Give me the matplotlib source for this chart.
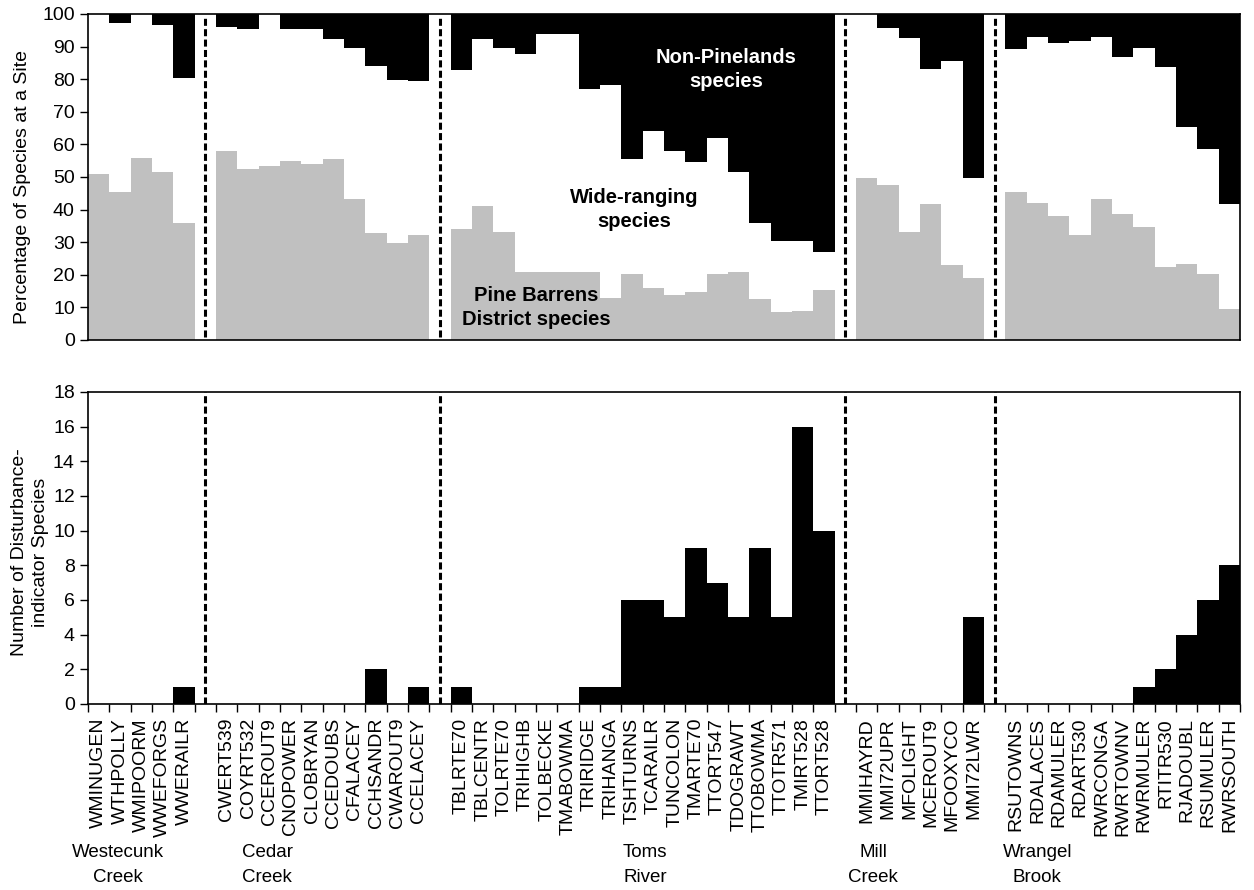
import numpy as np
import matplotlib
matplotlib.use('Agg')
import matplotlib.pyplot as plt

plt.rcParams['font.family'] = ['Liberation Sans', 'DejaVu Sans']

# ── data ───────────────────────────────────────────────────────────────────
GROUPS = ['Westecunk\nCreek', 'Cedar\nCreek', 'Toms\nRiver', 'Mill\nCreek', 'Wrangel\nBrook']

SITES = [
    ['WMINUGEN', 'WTHPOLLY', 'WMIPOORM', 'WWEFORGS', 'WWERAILR'],
    ['CWERT539', 'COYRT532', 'CCEROUT9', 'CNOPOWER', 'CLOBRYAN', 'CCEDOUBS',
     'CFALACEY', 'CCHSANDR', 'CWAROUT9', 'CCELACEY'],
    ['TBLRTE70', 'TBLCENTR', 'TOLRTE70', 'TRIHIGHB', 'TOLBECKE', 'TMABOWMA',
     'TRIRIDGE', 'TRIHANGA', 'TSHTURNS', 'TCARAILR', 'TUNCOLON', 'TMARTE70',
     'TTORT547', 'TDOGRAWT', 'TTOBOWMA', 'TTOTR571', 'TMIRT528', 'TTORT528'],
    ['MMIHAYRD', 'MMI72UPR', 'MFOLIGHT', 'MCEROUT9', 'MFOOXYCO', 'MMI72LWR'],
    ['RSUTOWNS', 'RDALACES', 'RDAMULER', 'RDART530', 'RWRCONGA', 'RWRTOWNV',
     'RWRMULER', 'RTITR530', 'RJADOUBL', 'RSUMULER', 'RWRSOUTH'],
]

# % Pine Barrens District species
PINE = [
    [51.0, 45.5, 55.9, 51.5, 35.8],
    [58.0, 52.5, 53.5, 54.9, 54.0, 55.4, 43.2, 32.7, 29.8, 32.2],
    [34.1, 41.0, 33.0, 20.8, 20.8, 20.8, 20.8, 13.0, 20.2, 15.9, 13.9, 14.6,
     20.2, 20.8, 12.6, 8.5, 8.9, 15.3],
    [49.6, 47.5, 33.2, 41.6, 22.9, 18.9],
    [45.5, 42.1, 38.1, 32.2, 43.2, 38.7, 34.7, 22.4, 23.3, 20.3, 9.5],
]

# % Non-Pinelands species
NONPINE = [
    [0.0, 2.9, 0.0, 3.4, 19.6],
    [4.1, 4.5, 0.0, 4.5, 4.5, 7.8, 10.3, 15.9, 20.3, 20.6],
    [17.3, 7.6, 10.3, 12.2, 6.0, 6.0, 23.1, 21.8, 44.5, 35.8, 42.0, 45.4,
     38.0, 48.5, 64.0, 69.5, 69.5, 73.1],
    [0.0, 4.4, 7.5, 16.8, 14.4, 50.4],
    [10.8, 7.0, 8.8, 8.4, 7.0, 13.3, 10.4, 16.4, 34.6, 41.5, 58.3],
]

# number of disturbance-indicator species
DISTURB = [
    [0, 0, 0, 0, 1],
    [0, 0, 0, 0, 0, 0, 0, 2, 0, 1],
    [1, 0, 0, 0, 0, 0, 1, 1, 6, 6, 5, 9, 7, 5, 9, 5, 16, 10],
    [0, 0, 0, 0, 0, 5],
    [0, 0, 0, 0, 0, 0, 1, 2, 4, 6, 8],
]

# x positions of the watershed captions (slot units)
GROUP_LABEL_X = [0.9, 7.9, 25.6, 36.3, 44.0]

# ── layout: one empty slot between watersheds ──────────────────────────────
x, labels, pine, nonpine, dist, gap_x = [], [], [], [], [], []
pos = 0
for gi, names in enumerate(SITES):
    for j, name in enumerate(names):
        x.append(pos)
        labels.append(name)
        pine.append(PINE[gi][j])
        nonpine.append(NONPINE[gi][j])
        dist.append(DISTURB[gi][j])
        pos += 1
    if gi < len(SITES) - 1:
        gap_x.append(pos)
        pos += 1
n_slots = pos
x = np.array(x)
pine = np.array(pine)
nonpine = np.array(nonpine)
wide = 100 - pine - nonpine
dist = np.array(dist)

GRAY = '#c0c0c0'
DASH = (0, (2.3, 1.1))
NARROW = ['Liberation Sans Narrow', 'Liberation Sans', 'DejaVu Sans']

fig = plt.figure(figsize=(12.54, 8.90), dpi=100)
ax1 = fig.add_axes([0.0702, 0.618, 0.9187, 0.3663])
ax2 = fig.add_axes([0.0702, 0.209, 0.9187, 0.3506])

# ── top: stacked percentages ───────────────────────────────────────────────
ax1.bar(x, pine, width=1.0, color=GRAY, edgecolor='none')
ax1.bar(x, wide, width=1.0, bottom=pine, color='white', edgecolor='none')
ax1.bar(x, nonpine, width=1.0, bottom=pine + wide, color='black', edgecolor='none')
for g in gap_x:
    ax1.plot([g, g], [1, 99.5], color='black', lw=2.2, ls=DASH)
ax1.set_xlim(-0.5, n_slots - 0.5)
ax1.set_ylim(0, 100)
ax1.set_yticks(np.arange(0, 101, 10))
ax1.set_xticks([])
ax1.set_ylabel('Percentage of Species at a Site', fontsize=14)
ax1.yaxis.set_label_coords(-0.0495, 0.47)

ax1.text(29.4, 83, 'Non-Pinelands\nspecies', color='white', fontsize=14.5,
         fontweight='bold', ha='center', va='center', linespacing=1.35)
ax1.text(25.1, 40, 'Wide-ranging\nspecies', color='black', fontsize=14.5,
         fontweight='bold', ha='center', va='center', linespacing=1.35)
ax1.text(20.5, 10, 'Pine Barrens\nDistrict species', color='black', fontsize=14.5,
         fontweight='bold', ha='center', va='center', linespacing=1.3)

# ── bottom: disturbance indicators ─────────────────────────────────────────
ax2.bar(x, dist, width=1.0, color='black', edgecolor='none')
for g in gap_x:
    ax2.axvline(g, color='black', lw=2.2, ls=DASH)
ax2.set_xlim(-0.5, n_slots - 0.5)
ax2.set_ylim(0, 18)
ax2.set_yticks(np.arange(0, 19, 2))
ax2.set_xticks(x)
ax2.set_xticklabels(labels, rotation=90, fontsize=14, va='top')
ax2.tick_params(axis='x', length=0, pad=10)
ax2.set_xticks(np.arange(-0.5, n_slots, 1.0), minor=True)
ax2.tick_params(axis='x', which='minor', length=6, width=1.0, direction='out')
ax2.set_ylabel('Number of Disturbance-\nindicator Species', fontsize=14,
               linespacing=1.3)
ax2.yaxis.set_label_coords(-0.034, 0.487)

for gx, gname in zip(GROUP_LABEL_X, GROUPS):
    ax2.text(gx, -0.516, gname, transform=ax2.get_xaxis_transform(),
             ha='center', va='center', fontsize=13.5, linespacing=1.6,
             family=NARROW)

for a in (ax1, ax2):
    a.tick_params(axis='y', labelsize=14, length=6, width=1.0, direction='out')
    for sp in a.spines.values():
        sp.set_edgecolor('black')
        sp.set_linewidth(1.2)

fig.savefig('out.png', dpi=100)
